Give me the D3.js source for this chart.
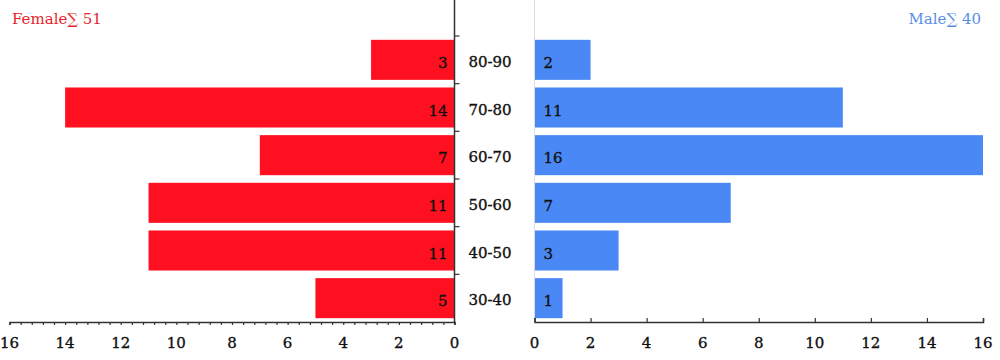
<!DOCTYPE html>
<html><head><meta charset="utf-8">
<script src="https://cdn.jsdelivr.net/npm/d3@7"></script>
<style>body{margin:0;background:#fff}svg{display:block}</style>
</head><body>
<svg id="c" width="1000" height="360"></svg>
<script>
const categories = ["80-90","70-80","60-70","50-60","40-50","30-40"];
const female = [3,14,7,11,11,5];
const male = [2,11,16,7,3,1];
const ticksMain = [0,2,4,6,8,10,12,14,16];
const femaleTitle = "Female∑ 51";
const maleTitle = "Male∑ 40";

const RED = "#ff1020", BLUE = "#4a89f5", RED_T = "#e8232b", BLUE_T = "#5a8fe6";
const FONT = "'DejaVu Serif', serif";
const svg = d3.select("#c");

const axisY = 322, plotTop = 36;
const y = d3.scaleBand().domain(categories).range([plotTop, axisY]).paddingInner(0.16).paddingOuter(0.08);
const yb = d3.scaleBand().domain(categories).range([plotTop, axisY]);
const xL = d3.scaleLinear().domain([0,16]).range([454.5, 9.5]);
const xR = d3.scaleLinear().domain([0,16]).range([534.5, 983]);

function txt(sel, size, color){
  return sel.attr("font-family",FONT).attr("font-size",size).attr("fill",color)
    .attr("stroke",color).attr("stroke-width",0.35);
}

// bars
svg.append("g").selectAll("rect").data(categories).join("rect")
  .attr("x", (d,i)=>xL(female[i])).attr("y", d=>y(d))
  .attr("width", (d,i)=>xL(0)-xL(female[i])).attr("height", y.bandwidth())
  .attr("fill", RED);
svg.append("g").selectAll("rect").data(categories).join("rect")
  .attr("x", xR(0)).attr("y", d=>y(d))
  .attr("width", (d,i)=>xR(male[i])-xR(0)).attr("height", y.bandwidth())
  .attr("fill", BLUE);

// value labels
txt(svg.append("g").selectAll("text").data(categories).join("text")
  .attr("x", xL(0)-7).attr("y", d=>y(d)+y.bandwidth()/2+8)
  .attr("text-anchor","end"), 15, "#111")
  .text((d,i)=>female[i]);
txt(svg.append("g").selectAll("text").data(categories).join("text")
  .attr("x", xR(0)+9).attr("y", d=>y(d)+y.bandwidth()/2+8)
  .attr("text-anchor","start"), 15, "#111")
  .text((d,i)=>male[i]);

// category labels
txt(svg.append("g").selectAll("text").data(categories).join("text")
  .attr("x", 490).attr("y", d=>yb(d)+yb.bandwidth()/2+7)
  .attr("text-anchor","middle"), 15, "#111")
  .text(d=>d);

// left vertical axis
svg.append("line").attr("x1",xL(0)).attr("x2",xL(0)).attr("y1",0).attr("y2",axisY).attr("stroke","#333").attr("stroke-width",1.5);
svg.append("g").selectAll("line").data(categories).join("line")
  .attr("x1",xL(0)).attr("x2",xL(0)+5).attr("y1",d=>yb(d)).attr("y2",d=>yb(d))
  .attr("stroke","#333").attr("stroke-width",1.2);
// right faint vertical axis
svg.append("line").attr("x1",xR(0)).attr("x2",xR(0)).attr("y1",0).attr("y2",axisY).attr("stroke","#ddd").attr("stroke-width",1);

// left x axis
const gL = svg.append("g").attr("transform",`translate(0,${axisY})`)
  .call(d3.axisBottom(xL).tickValues(d3.range(0,16.01,0.4)).tickSize(3).tickFormat(""));
gL.select(".domain").attr("stroke","#333").attr("stroke-width",1.5);
gL.selectAll(".tick line").attr("stroke","#333").attr("stroke-width",1.2);
txt(svg.append("g").selectAll("text").data(ticksMain).join("text")
  .attr("x",d=>xL(d)).attr("y",axisY+26).attr("text-anchor","middle"), 15, "#111").text(d=>d);

// right x axis
const gR = svg.append("g").attr("transform",`translate(0,${axisY})`)
  .call(d3.axisTop(xR).tickValues(ticksMain).tickSize(4).tickFormat(""));
gR.select(".domain").attr("stroke","#333").attr("stroke-width",1.5);
gR.selectAll(".tick line").attr("stroke","#333").attr("stroke-width",1.2);
txt(svg.append("g").selectAll("text").data(ticksMain).join("text")
  .attr("x",d=>xR(d)).attr("y",axisY+26).attr("text-anchor","middle"), 15, "#111").text(d=>d);

// titles
svg.append("text").attr("x",12).attr("y",24).attr("font-family",FONT).attr("font-size",15)
  .attr("fill",RED_T).text(femaleTitle);
svg.append("text").attr("x",981).attr("y",24).attr("text-anchor","end").attr("font-family",FONT).attr("font-size",15)
  .attr("fill",BLUE_T).text(maleTitle);
</script>
</body></html>
